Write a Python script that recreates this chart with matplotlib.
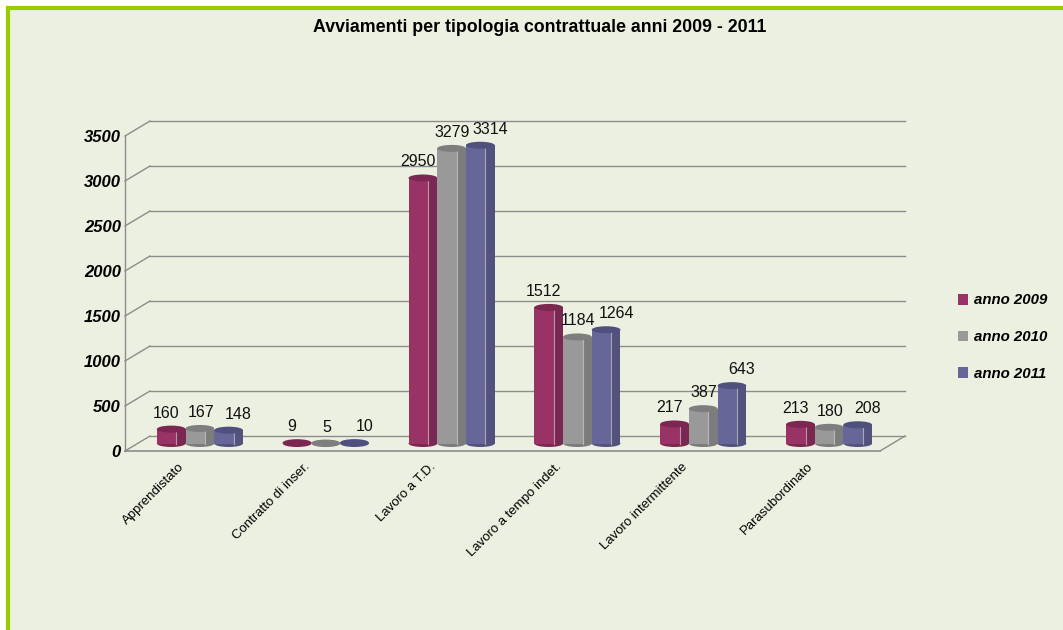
import matplotlib
matplotlib.use('Agg')
import matplotlib.pyplot as plt
from matplotlib.patches import Rectangle, Ellipse
from matplotlib.transforms import ScaledTranslation
from matplotlib.patches import Patch

# Data
categories = ['Apprendistato', 'Contratto di inser.', 'Lavoro a T.D.',
              'Lavoro a tempo indet.', 'Lavoro intermittente', 'Parasubordinato']
anno_2009 = [160, 9, 2950, 1512, 217, 213]
anno_2010 = [167, 5, 3279, 1184, 387, 180]
anno_2011 = [148, 10, 3314, 1264, 643, 208]
series_names = ['anno 2009', 'anno 2010', 'anno 2011']
yticks = [0, 500, 1000, 1500, 2000, 2500, 3000, 3500]

# Excel-like colours: (front, shaded side, top cap)
colors = [('#993366', '#7A2851', '#7B2752'),
          ('#999999', '#7C7C7C', '#7E7E7E'),
          ('#666699', '#52527D', '#50507E')]

plt.rcParams['font.family'] = ['Liberation Sans', 'DejaVu Sans']

W, H = 1063, 630
fig = plt.figure(figsize=(W / 100, H / 100), dpi=100)
fig.patch.set_facecolor('white')

# background panel with green border on the left and top
bg = fig.add_axes([0, 0, 1, 1])
bg.set_xlim(0, W)
bg.set_ylim(H, 0)
bg.axis('off')
bg.add_patch(Rectangle((7, 7), W, H, facecolor='#ECF0E0', edgecolor='none'))
bg.plot([7.5, 7.5], [7, H], color='#99CC00', lw=3, solid_capstyle='butt')
bg.plot([6, W], [7.5, 7.5], color='#99CC00', lw=3, solid_capstyle='butt')

# front plane of the pseudo-3D plot
ax_l, ax_b, ax_w, ax_h = 125, 451, 755, 315
ax = fig.add_axes([ax_l / W, (H - ax_b) / H, ax_w / W, ax_h / H])
ax.set_xlim(0, len(categories))
ax.set_ylim(0, 3500)
ax.patch.set_alpha(0)
for s in ax.spines.values():
    s.set_visible(False)

# pixel -> data conversions
px_x = len(categories) / ax_w
px_y = 3500 / ax_h
ddx, ddy = 25 * px_x, 15 * px_y        # depth of the plot box
mdx, mdy = 12 * px_x, 7.5 * px_y       # bars sit half way in depth

grid_col = '#8C8C8C'
n = len(categories)

# back wall grid + left wall diagonals
for y in yticks:
    ax.plot([ddx, n + ddx], [y + ddy, y + ddy], color=grid_col, lw=1, clip_on=False, zorder=1)
    ax.plot([0, ddx], [y, y + ddy], color=grid_col, lw=1, clip_on=False, zorder=1)
# front left axis and floor
ax.plot([0, 0], [0, 3500], color=grid_col, lw=1, clip_on=False, zorder=1)
ax.plot([0, n], [0, 0], color=grid_col, lw=1.2, clip_on=False, zorder=1)
ax.plot([n, n + ddx], [0, ddy], color=grid_col, lw=1, clip_on=False, zorder=1)

# cylinders
bw = 0.228
offsets = [-bw, 0, bw]
label_dx = [-5, 1, 10]
cap_h = 7 * px_y
all_series = [anno_2009, anno_2010, anno_2011]
for k, vals in enumerate(all_series):
    front, side, top = colors[k]
    xs = [i + 0.5 + offsets[k] + mdx for i in range(n)]
    # main body
    ax.bar(xs, vals, width=bw, bottom=mdy, color=front, edgecolor='none', zorder=3 + k)
    for x, v in zip(xs, vals):
        left = x - bw / 2
        # rounded bottom
        ax.add_patch(Ellipse((x, mdy), bw, cap_h, facecolor=side, edgecolor='none', zorder=2.9 + k))
        # shaded right side with a light highlight line
        ax.add_patch(Rectangle((left + bw * 0.68, mdy), bw * 0.32, v, facecolor=side,
                               edgecolor='none', zorder=3.1 + k))
        ax.plot([left + bw * 0.68, left + bw * 0.68], [mdy, mdy + v], color='#E0E0E0',
                lw=0.8, alpha=0.6, zorder=3.2 + k)
        # top cap
        ax.add_patch(Ellipse((x, mdy + v), bw, cap_h, facecolor=top, edgecolor='none', zorder=3.3 + k))
        ax.text(x + label_dx[k] * px_x, mdy + v + 16 * px_y, str(v), ha='center', va='center',
                fontsize=11.5, color='#111111', zorder=10)

# y tick labels
ax.set_yticks(yticks)
ax.set_yticklabels([str(t) for t in yticks], fontsize=12, fontweight='bold', fontstyle='italic')
ax.tick_params(axis='y', length=0, pad=3)

# x tick labels
ax.set_xticks([i + 0.5 for i in range(n)])
ax.set_xticklabels(categories, rotation=45, ha='right', va='top', rotation_mode='anchor', fontsize=9.5)
ax.tick_params(axis='x', length=0, pad=7)
for lab in ax.get_xticklabels():
    lab.set_transform(lab.get_transform() + ScaledTranslation(-0.1, 0, fig.dpi_scale_trans))

# title
fig.text(540 / W, 1 - 28 / H, 'Avviamenti per tipologia contrattuale anni 2009 - 2011',
         ha='center', va='center', fontsize=12.8, fontweight='bold')

# legend
handles = [Patch(facecolor=c[0], edgecolor='none') for c in colors]
fig.legend(handles, series_names, loc='center left', bbox_to_anchor=(944 / W, 1 - 337 / H),
           frameon=False, handlelength=0.7, handleheight=0.7, handletextpad=0.4,
           labelspacing=1.5, prop={'size': 10.8, 'weight': 'bold', 'style': 'italic'})

fig.savefig('out.png', dpi=100)
